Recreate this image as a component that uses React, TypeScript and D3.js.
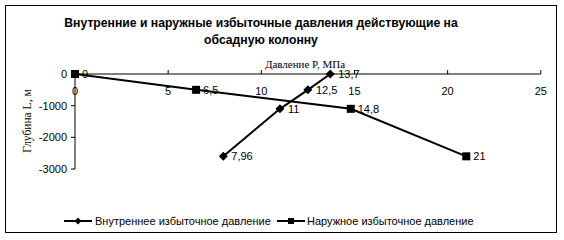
import React from "react";
import * as d3 from "d3";

const innerPressure = [7.96, 11, 12.5, 13.7];
const innerDepth = [-2600, -1100, -500, 0];
const innerLabels = ["7,96", "11", "12,5", "13,7"];
const outerPressure = [0, 6.5, 14.8, 21];
const outerDepth = [0, -500, -1100, -2600];
const outerLabels = ["0", "6,5", "14,8", "21"];
const xTicks = [0, 5, 10, 15, 20, 25];
const yTicks = [0, -1000, -2000, -3000];
const titleLines = ["Внутренние и наружные избыточные давления действующие на", "обсадную колонну"];
const seriesNames = ["Внутреннее избыточное давление", "Наружное избыточное давление"];

export default function App() {
  const x = d3.scaleLinear().domain([0, 25]).range([75, 540.8]);
  const y = d3.scaleLinear().domain([-3000, 0]).range([169, 74]);
  const line = d3
    .line<[number, number]>()
    .x((d) => x(d[0]))
    .y((d) => y(d[1]));
  const inner: [number, number][] = innerPressure.map((p, i) => [p, innerDepth[i]]);
  const outer: [number, number][] = outerPressure.map((p, i) => [p, outerDepth[i]]);
  const sans = "Arial, 'Liberation Sans', sans-serif";
  const serif = "'Times New Roman', 'Liberation Serif', serif";
  const diamond = (cx: number, cy: number, r: number) =>
    `M${cx},${cy - r}L${cx + r},${cy}L${cx},${cy + r}L${cx - r},${cy}Z`;
  const ly = 221;

  return (
    <svg width={564} height={240} style={{ position: "absolute", left: 0, top: 0 }}>
      <rect x={0} y={0} width={564} height={240} fill="#fff" />
      <rect x={5.5} y={5.5} width={551} height={227} fill="#fff" stroke="#000" strokeWidth={1} />
      <g fontFamily={sans} fontWeight="bold" fontSize={12.2} textAnchor="middle">
        {titleLines.map((t, i) => (
          <text key={i} x={261} y={27 + i * 16.5}>
            {t}
          </text>
        ))}
      </g>
      <text x={305} y={68} fontFamily={serif} fontSize={11} textAnchor="middle">
        Давление P, МПа
      </text>
      <text
        transform={`translate(31,121) rotate(-90)`}
        fontFamily={serif}
        fontSize={11.5}
        textAnchor="middle"
      >
        Глубина L, м
      </text>
      {/* y axis */}
      <line x1={x(0)} x2={x(0)} y1={y(0)} y2={y(-3000)} stroke="#000" />
      {yTicks.map((t) => (
        <g key={t}>
          <line x1={x(0) - 4} x2={x(0)} y1={y(t)} y2={y(t)} stroke="#000" />
          <text x={x(0) - 8} y={y(t) + 4} fontFamily={sans} fontSize={11} textAnchor="end">
            {t}
          </text>
        </g>
      ))}
      {/* x axis */}
      <line x1={x(0)} x2={x(25)} y1={y(0)} y2={y(0)} stroke="#000" />
      {xTicks.map((t) => (
        <g key={t}>
          <line x1={x(t)} x2={x(t)} y1={y(0) - 4} y2={y(0)} stroke="#000" />
          <text x={x(t)} y={y(0) + 21} fontFamily={sans} fontSize={11} textAnchor="middle">
            {t}
          </text>
        </g>
      ))}
      {/* series */}
      <path d={line(outer) || ""} fill="none" stroke="#000" strokeWidth={2} />
      <path d={line(inner) || ""} fill="none" stroke="#000" strokeWidth={2} />
      {outer.map((d, i) => (
        <g key={"o" + i}>
          <rect x={x(d[0]) - 4} y={y(d[1]) - 4} width={8} height={8} fill="#000" />
          <text x={x(d[0]) + 7} y={y(d[1]) + 4} fontFamily={sans} fontSize={11}>
            {outerLabels[i]}
          </text>
        </g>
      ))}
      {inner.map((d, i) => (
        <g key={"i" + i}>
          <path d={diamond(x(d[0]), y(d[1]), 4.5)} fill="#000" />
          <text x={x(d[0]) + 8} y={y(d[1]) + 4} fontFamily={sans} fontSize={11}>
            {innerLabels[i]}
          </text>
        </g>
      ))}
      {/* legend */}
      <g>
        <line x1={64} x2={92} y1={ly} y2={ly} stroke="#000" strokeWidth={2} />
        <path d={diamond(78, ly, 3.5)} fill="#000" />
        <text x={95} y={ly + 4} fontFamily={sans} fontSize={11}>
          {seriesNames[0]}
        </text>
        <line x1={277} x2={305} y1={ly} y2={ly} stroke="#000" strokeWidth={2} />
        <rect x={288} y={ly - 3} width={6} height={6} fill="#000" />
        <text x={307} y={ly + 4} fontFamily={sans} fontSize={11}>
          {seriesNames[1]}
        </text>
      </g>
    </svg>
  );
}
